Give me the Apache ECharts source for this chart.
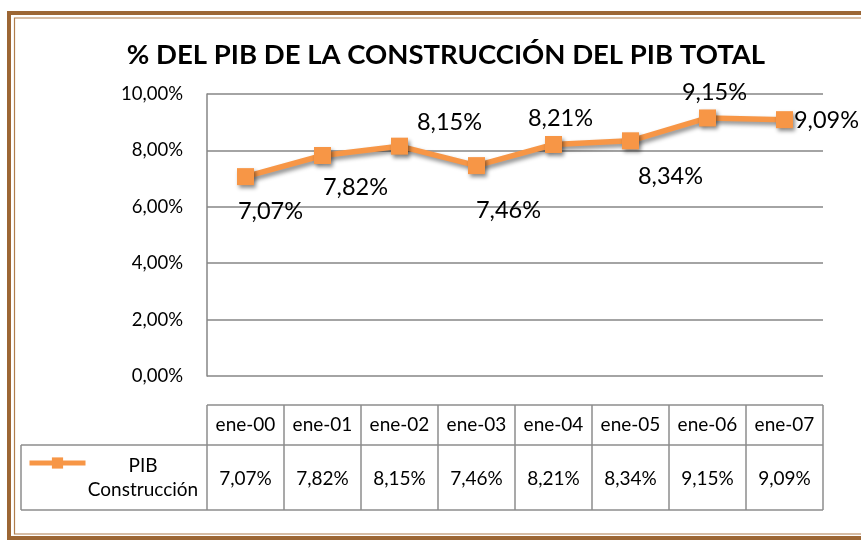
<!DOCTYPE html>
<html>
<head>
<meta charset="utf-8">
<script src="https://cdn.jsdelivr.net/npm/echarts@6/dist/echarts.min.js"></script>
<style>
  html, body { margin: 0; padding: 0; background: #fff; }
  #chart { width: 861px; height: 540px; }
</style>
</head>
<body>
<div id="chart"></div>
<script>
// chart data
var categories = ['ene-00', 'ene-01', 'ene-02', 'ene-03', 'ene-04', 'ene-05', 'ene-06', 'ene-07'];
var pibConstruccion = [7.07, 7.82, 8.15, 7.46, 8.21, 8.34, 9.15, 9.09];
var yTicks = [0, 2, 4, 6, 8, 10];
var seriesName = 'PIB Construcción';

var fmt = function(v) {
    return v.toFixed(2).replace('.', ',') + '%';
};

// layout
var FONT = 'Lato';
var ORANGE = '#F79646';
var BROWN = '#9C6634';
var gridLeft = 207, gridRight = 823, gridTop = 94, gridBottom = 376;
var rowTop = 405, rowMid = 445, rowBottom = 510, legendLeft = 21;

// where each value label sits relative to its marker
var labelOffsets = [[25, 35], [33, 32], [50, -24], [32, 45], [7, -26], [40, 36], [7, -26], [42, 1]];

var chartDom = document.getElementById('chart');
var myChart = echarts.init(chartDom);

var buildTable = function() {
    var els = [];
    var n = categories.length;
    var cw = (gridRight - gridLeft) / n;
    var line = function(x1, y1, x2, y2) {
        els.push({
            type: 'line',
            shape: { x1: x1, y1: y1, x2: x2, y2: y2 },
            style: { stroke: '#8c8c8c', lineWidth: 1.5 }
        });
    };
    line(gridLeft, rowTop, gridRight, rowTop);
    line(legendLeft, rowMid, gridRight, rowMid);
    line(legendLeft, rowBottom, gridRight, rowBottom);
    line(legendLeft, rowMid, legendLeft, rowBottom);
    for (var i = 0; i <= n; i++) {
        var x = gridLeft + cw * i;
        line(x, rowTop, x, rowBottom);
    }
    for (var j = 0; j < n; j++) {
        var cx = gridLeft + cw * (j + 0.5);
        els.push({
            type: 'text',
            x: cx, y: (rowTop + rowMid) / 2,
            style: { text: categories[j], fontFamily: FONT, fontSize: 19, fill: '#000', align: 'center', verticalAlign: 'middle' }
        });
        els.push({
            type: 'text',
            x: cx, y: (rowMid + rowBottom) / 2 + 1,
            style: { text: fmt(pibConstruccion[j]), fontFamily: FONT, fontSize: 19, fill: '#000', align: 'center', verticalAlign: 'middle' }
        });
    }
    // legend text inside the table's first cell
    els.push({
        type: 'text',
        x: 143, y: 478,
        style: { text: 'PIB\nConstrucción', fontFamily: FONT, fontSize: 19, lineHeight: 24, fill: '#000', align: 'center', verticalAlign: 'middle' }
    });
    // frame
    els.push({
        type: 'rect',
        shape: { x: 9, y: 13, width: 900, height: 525 },
        style: { fill: 'none', stroke: BROWN, lineWidth: 4 }
    });
    els.push({
        type: 'rect',
        shape: { x: 14.5, y: 18, width: 900, height: 516 },
        style: { fill: 'none', stroke: '#b07d4c', lineWidth: 1.2 }
    });
    return els;
};

var chartOption = {
    backgroundColor: '#fff',
    animation: false,
    title: {
        text: '% DEL PIB DE LA CONSTRUCCIÓN DEL PIB TOTAL',
        left: 441, top: 36, textAlign: 'center',
        textStyle: { fontFamily: FONT, fontWeight: 'bold', fontSize: 27.5, color: '#000' }
    },
    legend: {
        left: 22, top: 451,
        itemWidth: 56, itemHeight: 14,
        data: [seriesName],
        formatter: function() { return ''; },
        lineStyle: { width: 5, shadowBlur: 0, shadowOffsetX: 0, shadowOffsetY: 0 },
        itemStyle: { shadowBlur: 0, shadowOffsetX: 0, shadowOffsetY: 0 }
    },
    grid: {
        left: gridLeft, right: 861 - gridRight, top: gridTop, bottom: 540 - gridBottom,
        containLabel: false
    },
    xAxis: {
        type: 'category',
        data: categories,
        axisLine: { show: false },
        axisTick: { show: false },
        axisLabel: { show: false }
    },
    yAxis: {
        type: 'value',
        min: yTicks[0], max: yTicks[yTicks.length - 1], interval: 2,
        axisLine: { show: true, lineStyle: { color: '#868686', width: 1.5 } },
        axisTick: { show: false },
        axisLabel: {
            margin: 24, fontFamily: FONT, fontSize: 18.5, color: '#000',
            formatter: function(v) { return fmt(v); }
        },
        splitLine: { lineStyle: { color: '#868686', width: 1.5 } }
    },
    series: [{
        name: seriesName,
        type: 'line',
        data: pibConstruccion.map(function(v, i) {
            return {
                value: v,
                label: { offset: labelOffsets[i] }
            };
        }),
        symbol: 'rect',
        symbolSize: 17,
        color: ORANGE,
        lineStyle: {
            color: ORANGE, width: 5.5,
            shadowColor: 'rgba(0,0,0,0.45)', shadowBlur: 4, shadowOffsetX: 2, shadowOffsetY: 3
        },
        itemStyle: {
            color: ORANGE,
            shadowColor: 'rgba(0,0,0,0.45)', shadowBlur: 4, shadowOffsetX: 2, shadowOffsetY: 3
        },
        label: {
            show: true,
            position: 'inside',
            fontFamily: FONT, fontSize: 23.5, color: '#000',
            formatter: function(p) { return fmt(p.value); }
        }
    }],
    graphic: buildTable()
};

myChart.setOption(chartOption, true);
</script>
</body>
</html>
